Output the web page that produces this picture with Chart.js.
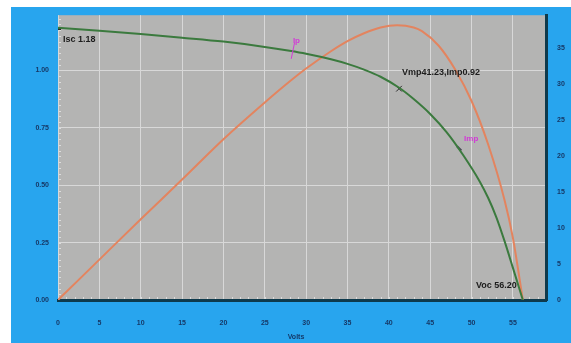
<html lang=en>
	<head>
		<title>IV curve</title>
		<meta http-equiv="content-type" content="text/html; charset=utf-8" />
		<script src="https://cdn.jsdelivr.net/npm/chart.js@4.4.1/dist/chart.umd.min.js"></script>
		<style>
			body { margin:0; background:#ffffff; }
			#wrap { position:absolute; left:0; top:0; width:571px; height:343px; }
		</style>
	</head>
	<body>
	<div id="wrap"><canvas id="myChart" width="571" height="343"></canvas></div>
	<script>
	// current curve (left axis)
	var volts = [0, 5, 10, 15, 20, 25, 28, 30, 33, 35, 37, 39, 41.2, 43, 45, 47, 49, 51, 52, 53, 54, 55, 56.2];
	var amps = [1.185, 1.172, 1.158, 1.142, 1.125, 1.102, 1.085, 1.072, 1.048, 1.028, 1.003, 0.972, 0.925, 0.875, 0.81, 0.73, 0.63, 0.515, 0.445, 0.36, 0.255, 0.14, 0];
	// power curve (right axis)
	var pVolts = [0, 5, 10, 15, 20, 25, 28, 30, 33, 35, 37, 39, 41, 43, 44, 46, 48, 50, 52, 54, 55, 56.2];
	var watts = [0, 5.6, 11.2, 16.7, 22.3, 27.4, 30.3, 32.1, 34.5, 35.9, 37.0, 37.8, 38.1, 37.8, 37.3, 35.3, 32.0, 27.6, 21.6, 13.8, 8.6, 0];
	// marked points
	var mppV = [41.23], mppI = [0.92];
	var iscV = [0], iscI = [1.18];
	var ptV = [48.5], ptI = [0.66];

	var xTicks = [0, 5, 10, 15, 20, 25, 30, 35, 40, 45, 50, 55];
	var xMax = 59, leftMax = 1.24, rightMax = 39.5;

	function pts(xs, ys) {
		var out = [];
		for (var i = 0; i < xs.length; i++) out.push({x: xs[i], y: ys[i]});
		return out;
	}

	var tickFont = {family: 'Liberation Sans', size: 7, weight: 'bold'};
	var tickColor = '#163866';

	var panel = {
		id: 'panel',
		beforeDraw: function(chart) {
			var c = chart.ctx, a = chart.chartArea;
			c.save();
			c.fillStyle = '#ffffff';
			c.fillRect(0, 0, chart.width, chart.height);
			c.fillStyle = '#28a5ee';
			c.fillRect(11, 7, 560, 336);
			c.fillStyle = '#b4b4b3';
			c.fillRect(a.left, a.top, a.right - a.left, a.bottom - a.top);
			// minor ticks
			var xs = chart.scales.x, yl = chart.scales.y;
			c.strokeStyle = '#dcdcdc';
			c.lineWidth = 1;
			c.beginPath();
			for (var v = 1; v < xMax; v++) {
				var px = Math.round(xs.getPixelForValue(v)) + 0.5;
				c.moveTo(px, a.bottom); c.lineTo(px, a.bottom - 3);
			}
			for (var k = 1; k * 0.025 < leftMax; k++) {
				var py = Math.round(yl.getPixelForValue(k * 0.025)) + 0.5;
				c.moveTo(a.left, py); c.lineTo(a.left + 3, py);
			}
			c.stroke();
			c.restore();
		},
		afterDatasetsDraw: function(chart) {
			var c = chart.ctx, xs = chart.scales.x, yl = chart.scales.y;
			c.save();
			c.font = 'bold 9px "Liberation Sans"';
			c.fillStyle = '#1c1c1c';
			c.textBaseline = 'middle';
			c.fillText('Isc 1.18', xs.getPixelForValue(iscV[0]) + 5, yl.getPixelForValue(iscI[0]) + 11);
			c.fillText('Vmp41.23,Imp0.92', xs.getPixelForValue(mppV[0]) + 3, yl.getPixelForValue(mppI[0]) - 16);
			c.textAlign = 'right';
			c.fillText('Voc 56.20', xs.getPixelForValue(56.2) - 6, yl.getPixelForValue(0) - 14);
			c.textAlign = 'left';
			c.fillStyle = '#d23ad6';
			c.font = 'bold 8px "Liberation Sans"';
			c.fillText('Ip', xs.getPixelForValue(28.4), yl.getPixelForValue(1.13));
			c.fillText('Imp', xs.getPixelForValue(49.1), yl.getPixelForValue(0.70));
			c.strokeStyle = '#d23ad6';
			c.lineWidth = 1;
			c.beginPath();
			c.moveTo(xs.getPixelForValue(28.6), yl.getPixelForValue(1.12));
			c.lineTo(xs.getPixelForValue(28.2), yl.getPixelForValue(1.05));
			c.stroke();
			c.fillStyle = '#143a6a';
			c.font = 'bold 7px "Liberation Sans"';
			c.textAlign = 'center';
			c.fillText('Volts', (chart.chartArea.left + chart.chartArea.right) / 2 - 6, 337);
			c.restore();
		}
	};

	var ctx = document.getElementById("myChart");
	var myChart = new Chart(ctx, {
		type: 'scatter',
		data: {
			datasets: [{
				label: 'Current',
				data: pts(volts, amps),
				yAxisID: 'y',
				showLine: true,
				borderColor: '#3b7a3e',
				borderWidth: 2,
				pointRadius: 0,
				cubicInterpolationMode: 'monotone'
			}, {
				label: 'Power',
				data: pts(pVolts, watts),
				yAxisID: 'y2',
				showLine: true,
				borderColor: '#e3845f',
				borderWidth: 2,
				pointRadius: 0,
				cubicInterpolationMode: 'monotone'
			}, {
				label: 'Mpp',
				data: pts(mppV, mppI),
				yAxisID: 'y',
				pointStyle: 'crossRot',
				pointRadius: 4,
				borderColor: '#2a2a2a',
				borderWidth: 1
			}, {
				label: 'Isc',
				data: pts(iscV, iscI),
				yAxisID: 'y',
				pointStyle: 'line',
				pointRadius: 3,
				borderColor: '#2a2a2a',
				borderWidth: 2
			}, {
				label: 'pt',
				data: pts(ptV, ptI),
				yAxisID: 'y',
				pointStyle: 'line',
				pointRadius: 3,
				rotation: 45,
				borderColor: '#4a3a5a',
				borderWidth: 2
			}]
		},
		options: {
			animation: false,
			responsive: false,
			layout: {padding: {top: 12, left: 0, right: 0, bottom: 0}},
			plugins: {legend: {display: false}, tooltip: {enabled: false}},
			scales: {
				x: {
					type: 'linear',
					min: 0, max: xMax,
					afterFit: function(s) { s.height = 43; },
					afterBuildTicks: function(s) { s.ticks = xTicks.map(function(v) { return {value: v}; }); },
					grid: {color: '#d8d8d8', lineWidth: 1, drawTicks: false},
					border: {display: true, color: '#0e3a4c', width: 3},
					ticks: {font: tickFont, color: tickColor, padding: 19}
				},
				y: {
					position: 'left',
					min: 0, max: leftMax,
					afterFit: function(s) { s.width = 58; },
					grid: {color: '#d8d8d8', lineWidth: 1, drawTicks: false},
					border: {display: false},
					ticks: {stepSize: 0.25, includeBounds: false, font: tickFont, color: tickColor, padding: 9,
						callback: function(v) { return v.toFixed(2); }}
				},
				y2: {
					position: 'right',
					min: 0, max: rightMax,
					afterFit: function(s) { s.width = 25; },
					grid: {drawOnChartArea: false, drawTicks: false},
					border: {display: true, color: '#0e3a4c', width: 3},
					ticks: {stepSize: 5, includeBounds: false, font: tickFont, color: tickColor, padding: 11}
				}
			}
		},
		plugins: [panel]
	});
	</script>
	</body>
</html>
